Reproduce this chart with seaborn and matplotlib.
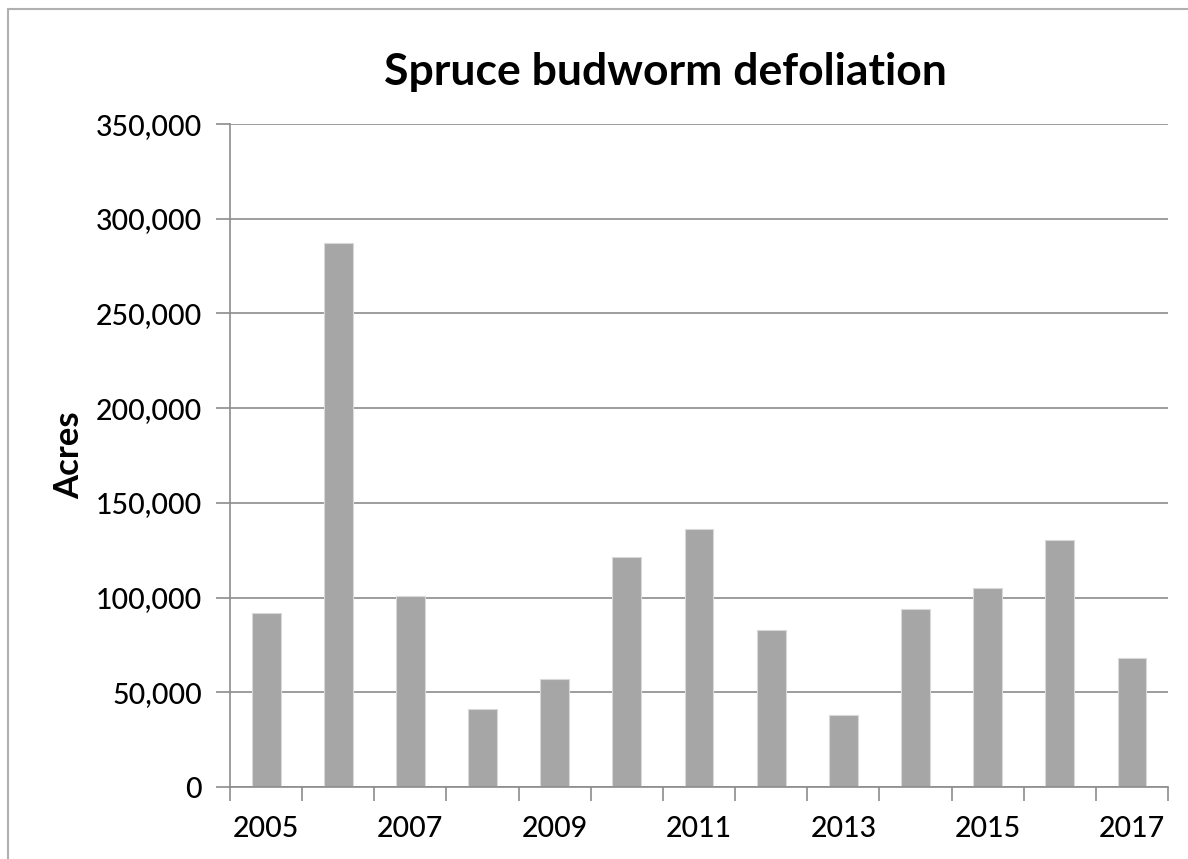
#%% libs
import matplotlib
matplotlib.use("Agg")
import matplotlib.pyplot as plt
import seaborn as sns
from matplotlib.lines import Line2D
from matplotlib.ticker import FuncFormatter, FixedLocator

# values
years = [str(y) for y in range(2005, 2018)]
acres = [92000, 287000, 101000, 41000, 57000, 121500, 136000,
         82700, 38000, 94000, 105300, 130300, 68000]
labeled_years = ["2005", "2007", "2009", "2011", "2013", "2015", "2017"]

sns.set_style("white")
plt.rcParams["font.family"] = ["Lato", "DejaVu Sans"]

grid_gray = "#8C8C8C"

fig = plt.figure(figsize=(11.88, 8.59), dpi=100)
ax = fig.add_axes([0.1936, 0.0838, 0.9832 - 0.1936, 0.8556 - 0.0838])

sns.barplot(x=years, y=acres, color="#A6A6A6", saturation=1, width=0.4,
            edgecolor="#D9D9D9", linewidth=0.8, ax=ax)

ax.set_xlim(-0.5, len(years) - 0.5)
ax.set_ylim(0, 350000)
ax.set_yticks(range(0, 350001, 50000))
ax.yaxis.set_major_formatter(FuncFormatter(lambda v, p: f"{int(v):,}"))
ax.grid(axis="y", color=grid_gray, linewidth=1.2)
ax.set_axisbelow(True)

# labels on every other year, tick marks between categories
ax.set_xticks([years.index(y) for y in labeled_years])
ax.set_xticklabels(labeled_years)
ax.tick_params(axis="x", which="major", length=0, pad=21, labelsize=20.5,
               labelcolor="black")
ax.xaxis.set_minor_locator(FixedLocator([i - 0.5 for i in range(len(years) + 1)]))
ax.tick_params(axis="x", which="minor", length=10, width=1.2, color=grid_gray,
               direction="out", bottom=True)
ax.tick_params(axis="y", length=10, width=1.2, color=grid_gray, direction="out",
               left=True, pad=10, labelsize=20.5, labelcolor="black")
for lab in ax.get_xticklabels() + ax.get_yticklabels():
    lab.set_fontweight("medium")

for s in ["top", "right"]:
    ax.spines[s].set_visible(False)
for s in ["left", "bottom"]:
    ax.spines[s].set_color(grid_gray)
    ax.spines[s].set_linewidth(1.2)

ax.set_xlabel("")
ax.set_ylabel("Acres", fontsize=25, fontweight="bold", labelpad=8, color="black")
fig.text(0.560, 0.916, "Spruce budworm defoliation", ha="center", va="center",
         fontsize=32, fontweight="bold", color="black")

# chart frame edges (only top and left are visible in the reference)
fig.add_artist(Line2D([8 / 1188, 8 / 1188], [0, 1 - 9 / 859],
                      color="#B0B0B0", linewidth=1.5, transform=fig.transFigure))
fig.add_artist(Line2D([8 / 1188, 1], [1 - 9 / 859, 1 - 9 / 859],
                      color="#B0B0B0", linewidth=1.5, transform=fig.transFigure))

fig.savefig("out.png", dpi=100)
